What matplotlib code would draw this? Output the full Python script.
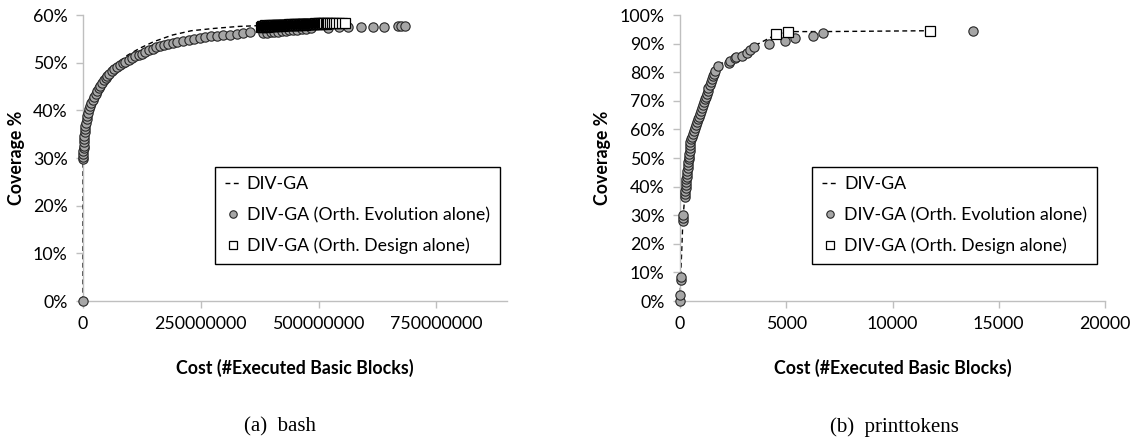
import numpy as np
import matplotlib
matplotlib.use('Agg')
import matplotlib.pyplot as plt
from matplotlib.ticker import PercentFormatter, FixedLocator, FuncFormatter

plt.rcParams['font.family'] = ['Lato', 'DejaVu Sans']

#%%

# bash: cost in millions of executed basic blocks, coverage in %

bash_divga_cost = [0, 0, 0.5, 2, 5, 10, 20, 35, 50, 70, 90, 120, 150, 190, 230, 280,
                   330, 380, 430, 480, 520, 556]
bash_divga_cov = [0, 29.7, 31, 33.5, 36.5, 39.2, 42.3, 45.2, 47.2, 49.2, 51.3, 53.0,
                  54.4, 55.8, 56.7, 57.2, 57.6, 57.8, 58.0, 58.1, 58.2, 58.3]

bash_evo_cost = [0, 0.3, 0.5, 0.7, 0.9, 1.1, 1.4, 1.8, 2.2, 2.7, 3.3, 4, 5, 6, 7.5, 9, 11,
                 13, 15.5, 18, 21, 24, 27, 30, 33, 36, 40, 44, 48, 52, 56, 61, 66, 72,
                 78, 84, 90, 97, 104, 111, 118, 125, 132, 140, 148, 156, 164, 172, 180,
                 190, 200, 212, 224, 236, 248, 260, 272, 285, 298, 312, 326, 340, 355,
                 382, 390, 398, 406, 414, 422, 430, 438, 446, 455, 464, 474, 485, 520,
                 543, 562, 590, 615, 638, 668, 675, 684]
bash_evo_cov = [0, 29.7, 30.2, 30.8, 31.4, 32.0, 32.6, 33.3, 34.0, 34.7, 35.4, 36.0, 36.8,
                37.4, 38.1, 38.8, 39.5, 40.2, 40.9, 41.5, 42.2, 42.9, 43.5, 44.1, 44.7,
                45.2, 45.8, 46.3, 46.8, 47.3, 47.7, 48.2, 48.6, 49.1, 49.5, 49.9, 50.2,
                50.6, 50.9, 51.3, 51.6, 51.9, 52.2, 52.6, 52.9, 53.2, 53.4, 53.7, 53.9,
                54.2, 54.4, 54.6, 54.8, 55.0, 55.2, 55.3, 55.5, 55.6, 55.8, 55.9, 56.1,
                56.3, 56.5, 56.2, 56.3, 56.4, 56.5, 56.5, 56.6, 56.7, 56.8, 56.9, 56.9,
                57.0, 57.1, 57.2, 57.3, 57.4, 57.5, 57.5, 57.5, 57.5, 57.6, 57.6, 57.6]

bash_design_cost = [378, 379.5, 381, 382.5, 384, 385.5, 387, 388.5, 390, 391.5, 393, 394.5,
                    396, 397.5, 399, 400.5, 402, 403.5, 405, 406.5, 408, 409.5, 411, 412.5,
                    414, 415.5, 417, 418.5, 420, 421.5, 423, 424.5, 426, 427.5, 429, 430.5,
                    432, 433.5, 435, 436.5, 438, 439.5, 441, 442.5, 444, 445.5, 447, 448.5,
                    450, 451.5, 453, 454.5, 456, 457.5, 459, 460.5, 462, 463.5, 465, 466.5,
                    468, 469.5, 471, 472.5, 474, 475.5, 477, 478.5, 480, 482, 484, 486,
                    488, 490, 492, 494, 496, 498, 500, 502, 504, 506, 508, 510, 512, 515,
                    518, 521, 524, 528, 533, 538, 544, 550, 556]
bash_design_cov = [57.4, 57.6, 57.5, 57.7, 57.5, 57.6, 57.8, 57.6, 57.5, 57.7, 57.6, 57.8,
                   57.6, 57.7, 57.9, 57.6, 57.7, 57.8, 57.6, 57.9, 57.7, 57.8, 57.7, 57.9,
                   57.8, 57.7, 57.9, 57.8, 58.0, 57.7, 57.9, 57.8, 58.0, 57.8, 57.9, 58.0,
                   57.8, 58.0, 57.9, 58.1, 57.9, 58.0, 57.9, 58.1, 58.0, 57.9, 58.1, 58.0,
                   58.1, 57.9, 58.0, 58.2, 58.0, 58.1, 58.0, 58.2, 58.1, 58.0, 58.2, 58.1,
                   58.1, 58.2, 58.0, 58.2, 58.1, 58.2, 58.1, 58.2, 58.2, 58.1, 58.2, 58.2,
                   58.1, 58.2, 58.3, 58.2, 58.2, 58.3, 58.2, 58.3, 58.2, 58.3, 58.2, 58.3,
                   58.3, 58.2, 58.3, 58.3, 58.3, 58.3, 58.3, 58.3, 58.3, 58.3, 58.3]

# printtokens

pt_divga_cost = [0, 30, 140, 220, 300, 400, 500, 700, 1000, 1300, 1640, 1800, 2300, 2900,
                 3500, 4530, 5060, 6760, 11750]
pt_divga_cov = [0, 8, 29, 36, 43, 49, 55, 60.5, 66.5, 73, 80.5, 82.5, 84.3, 86.8, 89.2,
                93.2, 94.2, 94.2, 94.5]

pt_evo_cost = [0, 10, 35, 40, 140, 150, 160, 230, 240, 250, 260, 270, 280, 295, 310, 325,
               345, 360, 370, 390, 410, 425, 440, 455, 465, 475, 490, 520, 560, 610, 660,
               700, 740, 780, 830, 880, 930, 980, 1020, 1080, 1120, 1170, 1210, 1260, 1300,
               1340, 1400, 1440, 1490, 1540, 1580, 1640, 1800, 2300, 2350, 2600, 2650, 2900,
               3150, 3300, 3500, 4200, 4950, 5400, 6250, 6750, 13800]
pt_evo_cov = [0, 2.2, 7.5, 8.5, 28.0, 29.0, 30.0, 36.5, 37.5, 38.5, 39.5, 40.5, 41.5, 42.5,
              43.5, 44.5, 45.5, 46.5, 47.5, 48.5, 49.5, 50.5, 51.5, 52.5, 53.5, 54.5, 55.5,
              56.5, 57.5, 58.5, 59.5, 60.5, 61.5, 62.5, 63.5, 64.5, 65.5, 66.5, 67.5, 68.5,
              69.5, 70.5, 71.5, 72.5, 73.5, 74.5, 75.5, 76.5, 77.5, 78.5, 79.5, 80.5, 82.3,
              83.2, 83.8, 84.8, 85.3, 85.6, 86.8, 87.8, 88.7, 89.8, 90.8, 91.8, 92.8, 93.8,
              94.5]

pt_design_cost = [4530, 5060, 11750]
pt_design_cov = [93.2, 94.2, 94.5]

bash_xticks = [0, 250000000, 500000000, 750000000]
pt_xticks = [0, 5000, 10000, 15000, 20000]

#%%

FS = 12.8


def draw_panel(ax, line_x, line_y, evo_x, evo_y, des_x, des_y, xmax, xticks, ymax):
    ax.plot(line_x, line_y, color='black', lw=1.0, ls=(0, (3.5, 2.5)), label='DIV-GA', zorder=2)
    ax.plot(evo_x, evo_y, ls='none', marker='o', ms=6.7, mfc='#a6a6a6', mec='#262626',
            mew=0.8, label='DIV-GA (Orth. Evolution alone)', zorder=3)
    ax.plot(des_x, des_y, ls='none', marker='s', ms=6.7, mfc='white', mec='black',
            mew=0.9, label='DIV-GA (Orth. Design alone)', zorder=4)
    ax.set_xlim(0, xmax)
    ax.set_ylim(0, ymax)
    ax.xaxis.set_major_locator(FixedLocator(xticks))
    ax.xaxis.set_major_formatter(FuncFormatter(lambda v, p: '%d' % v))
    ax.set_yticks(np.arange(0, ymax + 1, 10))
    ax.yaxis.set_major_formatter(PercentFormatter(xmax=100, decimals=0))
    for s in ['top', 'right']:
        ax.spines[s].set_visible(False)
    for s in ['left', 'bottom']:
        ax.spines[s].set_color('#bfbfbf')
        ax.spines[s].set_linewidth(1.0)
    ax.tick_params(colors='#bfbfbf', labelcolor='black', length=5, width=1.0,
                   labelsize=FS, pad=6)
    ax.set_xlabel('Cost (#Executed Basic Blocks)', fontsize=FS, fontweight='bold', labelpad=19)
    ax.set_ylabel('Coverage %', fontsize=FS, fontweight='bold', labelpad=6)
    for ln in ax.lines:
        ln.set_clip_on(False)
    leg = ax.legend(loc='lower left', bbox_to_anchor=(0.311, 0.129), fontsize=FS,
                    frameon=True, fancybox=False, edgecolor='black', framealpha=1,
                    handlelength=0.9, handletextpad=0.35, borderpad=0.55, labelspacing=0.82,
                    markerscale=0.8, borderaxespad=0)
    leg.get_frame().set_linewidth(1.0)


fig = plt.figure(figsize=(11.4, 4.4), dpi=100)
ax1 = fig.add_axes([83 / 1140, 139 / 440, 424 / 1140, 286 / 440])
ax2 = fig.add_axes([680 / 1140, 139 / 440, 425 / 1140, 286 / 440])

draw_panel(ax1, np.array(bash_divga_cost) * 1e6, bash_divga_cov,
           np.array(bash_evo_cost) * 1e6, bash_evo_cov,
           np.array(bash_design_cost) * 1e6, bash_design_cov,
           900000000, bash_xticks, 60)
draw_panel(ax2, pt_divga_cost, pt_divga_cov, pt_evo_cost, pt_evo_cov,
           pt_design_cost, pt_design_cov, 20000, pt_xticks, 100)

fig.text(280 / 1140, 1 - 427 / 440, '(a)  bash', family='Liberation Serif', fontsize=15,
         ha='center', va='center')
fig.text(894 / 1140, 1 - 427 / 440, '(b)  printtokens', family='Liberation Serif',
         fontsize=15, ha='center', va='center')

fig.savefig('out.png', dpi=100)
